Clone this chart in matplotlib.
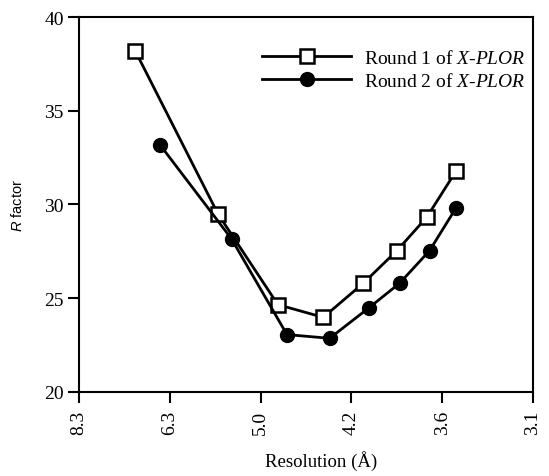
import matplotlib
matplotlib.use("Agg")
import matplotlib.pyplot as plt

# resolution axis (evenly spaced ticks, labels in Angstrom)
tick_pos = [0, 1, 2, 3, 4, 5]
tick_labels = ["8.3", "6.3", "5.0", "4.2", "3.6", "3.1"]

# round 1 of X-PLOR (open squares)
r1_x = [0.62, 1.53, 2.19, 2.69, 3.13, 3.50, 3.83, 4.15]
r1_y = [38.2, 29.5, 24.65, 23.97, 25.79, 27.53, 29.32, 31.77]

# round 2 of X-PLOR (filled circles)
r2_x = [0.89, 1.68, 2.29, 2.76, 3.19, 3.53, 3.86, 4.15]
r2_y = [33.2, 28.16, 23.05, 22.85, 24.47, 25.79, 27.53, 29.80]

plt.rcParams['font.family'] = 'Liberation Serif'
plt.rcParams['mathtext.fontset'] = 'custom'
plt.rcParams['mathtext.rm'] = 'Liberation Serif'
plt.rcParams['mathtext.it'] = 'Liberation Serif:italic'
plt.rcParams['mathtext.sf'] = 'Liberation Sans:italic'

fig = plt.figure(figsize=(5.49, 4.77), dpi=100)
ax = fig.add_axes([0.1439, 0.1768, 0.8270, 0.7848])

ax.plot(r1_x, r1_y, color='black', lw=2, marker='s', markersize=9.5,
        markerfacecolor='white', markeredgecolor='black', markeredgewidth=1.8,
        label=r'Round 1 of $\mathit{X}$-$\mathit{PLOR}$', zorder=3)
ax.plot(r2_x, r2_y, color='black', lw=2, marker='o', markersize=10,
        markerfacecolor='black', markeredgecolor='black',
        label=r'Round 2 of $\mathit{X}$-$\mathit{PLOR}$', zorder=3)

ax.set_xlim(0, 5)
ax.set_ylim(20, 40)
ax.set_xticks(tick_pos)
ax.set_xticklabels(tick_labels, rotation=90)
ax.set_yticks([20, 25, 30, 35, 40])

for s in ax.spines.values():
    s.set_linewidth(1.5)
ax.tick_params(direction='out', length=8, width=1.5, labelsize=14)
ax.tick_params(axis='x', pad=5)
ax.tick_params(axis='y', pad=3)

ax.set_xlabel('Resolution (Å)', fontsize=13.5)
ax.xaxis.set_label_coords(0.534, -0.155)
ax.set_ylabel(r'$\mathsf{R}$ factor', fontsize=10.5, fontfamily='Liberation Sans')
ax.yaxis.set_label_coords(-0.12, 0.5)

leg = ax.legend(loc='upper left', bbox_to_anchor=(0.403, 0.916), frameon=False,
                fontsize=14, handlelength=4.6, handletextpad=0.65,
                labelspacing=0.25, borderpad=0, borderaxespad=0)

fig.savefig('out.png', dpi=100)
